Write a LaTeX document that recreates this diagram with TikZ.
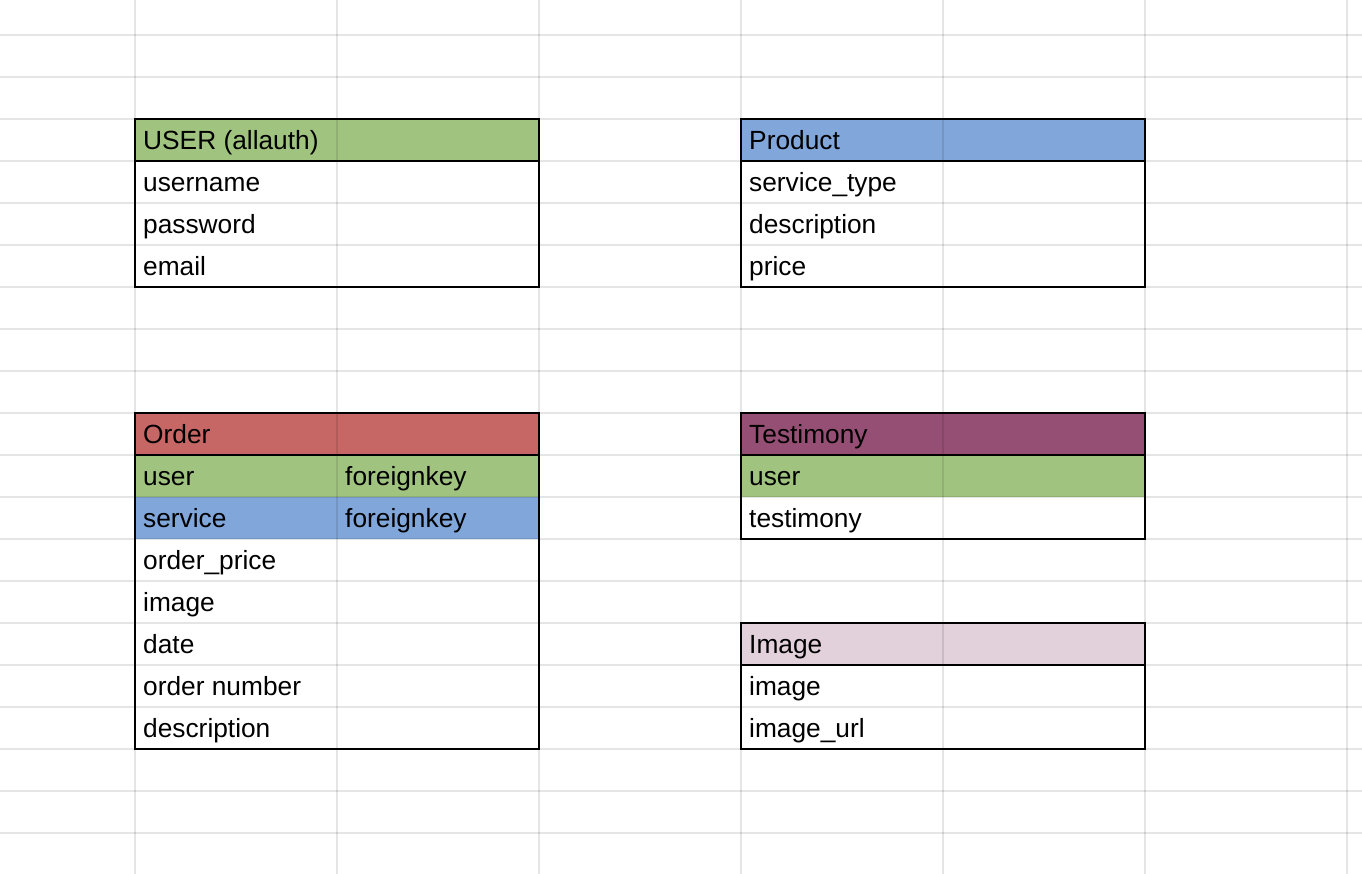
\documentclass[tikz,border=0pt]{standalone}
\usepackage{fontspec}
\setmainfont{Liberation Sans}
\definecolor{keygreen}{HTML}{A0C47F}
\definecolor{keyblue}{HTML}{80A6DA}
\definecolor{orderred}{HTML}{C76765}
\definecolor{testplum}{HTML}{964F74}
\definecolor{imagepink}{HTML}{E2D1DB}
\begin{document}
\begin{tikzpicture}[x=1pt,y=-1pt,
  cell/.style={anchor=base west, inner sep=0pt, font=\fontsize{26.3}{30}\selectfont, text=black},
  gridline/.style={draw=black, draw opacity=0.1, line width=1.3pt},
  tableborder/.style={draw=black, line width=1.7pt}]
\useasboundingbox (0,0) rectangle (1362,874);
\fill[white] (0,0) rectangle (1362,874);

% coloured cells
\fill[keygreen]  (135,119) rectangle (539,161);   % USER header
\fill[keyblue]   (741,119) rectangle (1145,161);  % Product header
\fill[orderred]  (135,413) rectangle (539,455);   % Order header
\fill[keygreen]  (135,455) rectangle (539,497);   % Order.user
\fill[keyblue]   (135,497) rectangle (539,539);   % Order.service
\fill[testplum]  (741,413) rectangle (1145,455);  % Testimony header
\fill[keygreen]  (741,455) rectangle (1145,497);  % Testimony.user
\fill[imagepink] (741,623) rectangle (1145,665);  % Image header

% sheet grid
\foreach \y in {35,77,...,833} \draw[gridline] (0,\y) -- (1362,\y);
\foreach \x in {135,337,...,1347} \draw[gridline] (\x,0) -- (\x,874);

% table outlines and header rules
\draw[tableborder] (135,119) rectangle (539,287);
\draw[tableborder] (135,161) -- (539,161);
\draw[tableborder] (741,119) rectangle (1145,287);
\draw[tableborder] (741,161) -- (1145,161);
\draw[tableborder] (135,413) rectangle (539,749);
\draw[tableborder] (135,455) -- (539,455);
\draw[tableborder] (741,413) rectangle (1145,539);
\draw[tableborder] (741,455) -- (1145,455);
\draw[tableborder] (741,623) rectangle (1145,749);
\draw[tableborder] (741,665) -- (1145,665);

% USER (allauth)
\node[cell] (userH)  at (143,149.5) {USER (allauth)};
\node[cell] (userF1) at (143,191.5) {username};
\node[cell] (userF2) at (143,233.5) {password};
\node[cell] (userF3) at (143,275.5) {email};

% Product
\node[cell] (prodH)  at (749,149.5) {Product};
\node[cell] (prodF1) at (749,191.5) {service\_type};
\node[cell] (prodF2) at (749,233.5) {description};
\node[cell] (prodF3) at (749,275.5) {price};

% Order
\node[cell] (ordH)   at (143,443.5) {Order};
\node[cell] (ordF1)  at (143,485.5) {user};
\node[cell] (ordK1)  at (345,485.5) {foreignkey};
\node[cell] (ordF2)  at (143,527.5) {service};
\node[cell] (ordK2)  at (345,527.5) {foreignkey};
\node[cell] (ordF3)  at (143,569.5) {order\_price};
\node[cell] (ordF4)  at (143,611.5) {image};
\node[cell] (ordF5)  at (143,653.5) {date};
\node[cell] (ordF6)  at (143,695.5) {order number};
\node[cell] (ordF7)  at (143,737.5) {description};

% Testimony
\node[cell] (testH)  at (749,443.5) {Testimony};
\node[cell] (testF1) at (749,485.5) {user};
\node[cell] (testF2) at (749,527.5) {testimony};

% Image
\node[cell] (imgH)   at (749,653.5) {Image};
\node[cell] (imgF1)  at (749,695.5) {image};
\node[cell] (imgF2)  at (749,737.5) {image\_url};
\end{tikzpicture}
\end{document}
